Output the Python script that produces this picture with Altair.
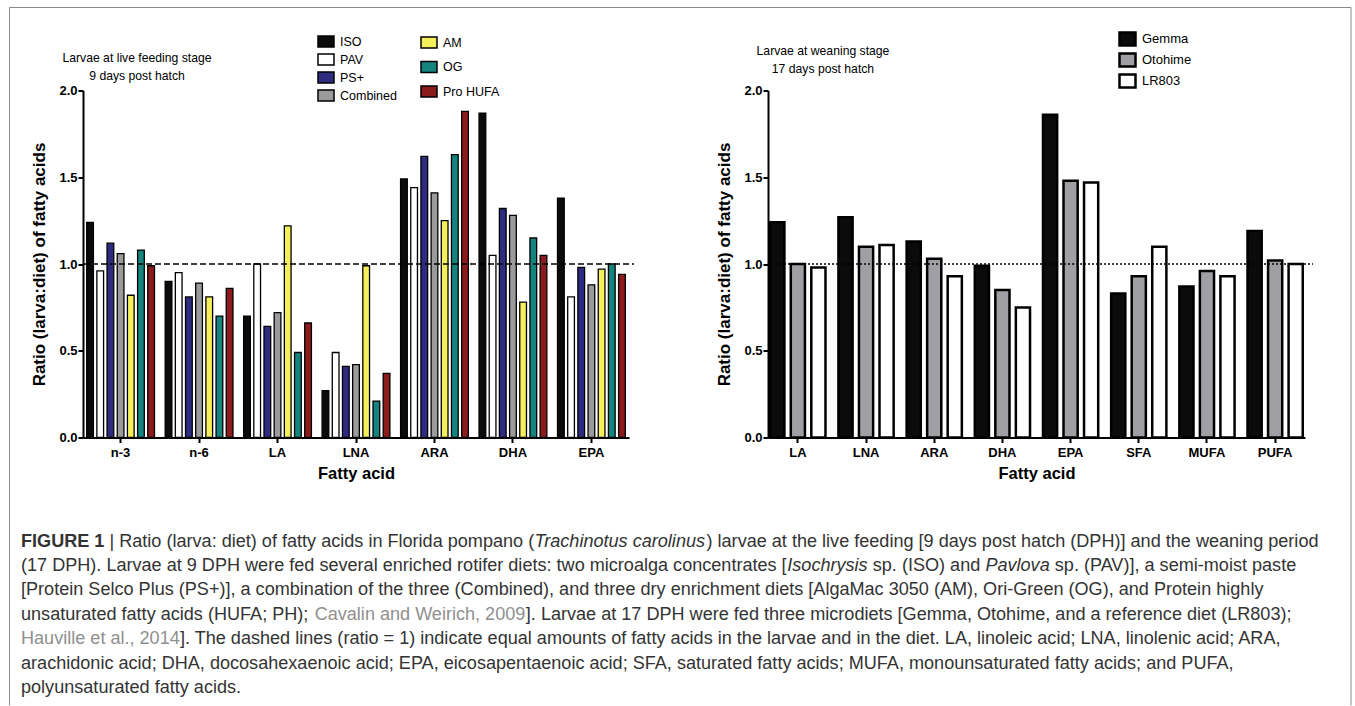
import altair as alt
import pandas as pd

# ---------------- data ----------------
left_acids = ["n-3", "n-6", "LA", "LNA", "ARA", "DHA", "EPA"]
left_diets = ["ISO", "PAV", "PS+", "Combined", "AM", "OG", "Pro HUFA"]
left_colors = ["#0b0b0b", "#ffffff", "#2d2c80", "#9b9b9b", "#f5ef5c", "#15847e", "#8c1b1b"]
ISO = [1.24, 0.90, 0.70, 0.27, 1.49, 1.87, 1.38]
PAV = [0.96, 0.95, 1.00, 0.49, 1.44, 1.05, 0.81]
PSP = [1.12, 0.81, 0.64, 0.41, 1.62, 1.32, 0.98]
COMB = [1.06, 0.89, 0.72, 0.42, 1.41, 1.28, 0.88]
AM = [0.82, 0.81, 1.22, 0.99, 1.25, 0.78, 0.97]
OG = [1.08, 0.70, 0.49, 0.21, 1.63, 1.15, 1.00]
PH = [0.99, 0.86, 0.66, 0.37, 1.88, 1.05, 0.94]

right_acids = ["LA", "LNA", "ARA", "DHA", "EPA", "SFA", "MUFA", "PUFA"]
right_diets = ["Gemma", "Otohime", "LR803"]
right_colors = ["#0b0b0b", "#a0a0a4", "#ffffff"]
GEMMA = [1.24, 1.27, 1.13, 0.99, 1.86, 0.83, 0.87, 1.19]
OTOHIME = [1.00, 1.10, 1.03, 0.85, 1.48, 0.93, 0.96, 1.02]
LR803 = [0.98, 1.11, 0.93, 0.75, 1.47, 1.10, 0.93, 1.00]

left_title = ["Larvae at live feeding stage", "9 days post hatch"]
right_title = ["Larvae at weaning stage", "17 days post hatch"]
y_ticks = [0, 0.5, 1.0, 1.5, 2.0]

caption_lines = [
    [("FIGURE 1", "bold"), (" | Ratio (larva: diet) of fatty acids in Florida pompano (", "normal"),
     ("Trachinotus carolinus", "italic"),
     (") larvae at the live feeding [9 days post hatch (DPH)] and the weaning period", "normal")],
    [("(17 DPH). Larvae at 9 DPH were fed several enriched rotifer diets: two microalga concentrates [", "normal"),
     ("Isochrysis", "italic"), (" sp. (ISO) and ", "normal"), ("Pavlova", "italic"),
     (" sp. (PAV)], a semi-moist paste", "normal")],
    [("[Protein Selco Plus (PS+)], a combination of the three (Combined), and three dry enrichment diets [AlgaMac 3050 (AM), Ori-Green (OG), and Protein highly", "normal")],
    [("unsaturated fatty acids (HUFA; PH); ", "normal"), ("Cavalin and Weirich, 2009", "cite"),
     ("]. Larvae at 17 DPH were fed three microdiets [Gemma, Otohime, and a reference diet (LR803);", "normal")],
    [("Hauville et al., 2014", "cite"),
     ("]. The dashed lines (ratio = 1) indicate equal amounts of fatty acids in the larvae and in the diet. LA, linoleic acid; LNA, linolenic acid; ARA,", "normal")],
    [("arachidonic acid; DHA, docosahexaenoic acid; EPA, eicosapentaenoic acid; SFA, saturated fatty acids; MUFA, monounsaturated fatty acids; and PUFA,", "normal")],
    [("polyunsaturated fatty acids.", "normal")],
]


def long_df(acids, diets, series):
    rows = []
    for d, vals in zip(diets, series):
        for a, v in zip(acids, vals):
            rows.append({"acid": a, "diet": d, "value": v})
    return pd.DataFrame(rows)


df_left = long_df(left_acids, left_diets, [ISO, PAV, PSP, COMB, AM, OG, PH])
df_right = long_df(right_acids, right_diets, [GEMMA, OTOHIME, LR803])

# ---------------- layout helpers ----------------
FONT = "Liberation Sans, Arial, sans-serif"
LEFT_X0, TOP_Y0 = 82, 90           # left plot origin (page px)
RIGHT_X0 = 767
PLOT_H = 347
LEFT_W, RIGHT_W = 546, 537
VSPACE = 20
CAP_Y0 = TOP_Y0 + PLOT_H + VSPACE   # caption chart origin

axis_common = dict(domainColor="black", domainWidth=2, tickColor="black", tickWidth=2, tickSize=5,
                   labelColor="black", labelFont=FONT, labelFontSize=13, labelFontWeight="bold",
                   titleFont=FONT, titleFontWeight="bold", titleColor="black", grid=False)


def x_enc(acids, pi, po):
    return alt.X("acid:N", sort=acids, scale=alt.Scale(domain=acids, paddingInner=pi, paddingOuter=po),
                 axis=alt.Axis(title="Fatty acid", labelAngle=0, labelPadding=4, titlePadding=6,
                               titleFontSize=16.5, **axis_common))


y_enc = alt.Y("value:Q", scale=alt.Scale(domain=[0, 2], nice=False),
              axis=alt.Axis(title="Ratio (larva:diet) of fatty acids", values=y_ticks, format=".1f",
                            labelPadding=1, titlePadding=10, titleFontSize=17, **axis_common))


def make_legend(x, y, row_pad, stroke_w, path, font_size):
    return alt.Legend(title=None, orient="none", legendX=x, legendY=y, direction="vertical",
                      symbolType=path, symbolSize=256, symbolStrokeColor="black",
                      symbolStrokeWidth=stroke_w, symbolOpacity=1,
                      labelFont=FONT, labelFontSize=font_size, labelColor="black",
                      labelOffset=5, rowPadding=row_pad, padding=0, labelLimit=300)


def bars(df, acids, all_diets, diets, colors, pi, po, opi, sw, leg):
    return alt.Chart(df).transform_filter(
        alt.FieldOneOfPredicate(field="diet", oneOf=diets)
    ).mark_bar(stroke="black", strokeWidth=sw).encode(
        x=x_enc(acids, pi, po),
        y=y_enc,
        xOffset=alt.XOffset("diet:N", scale=alt.Scale(domain=all_diets, paddingInner=opi, paddingOuter=0)),
        fill=alt.Fill("diet:N", scale=alt.Scale(domain=diets, range=colors), legend=leg),
    )


one = pd.DataFrame({"k": [0]})

# ---------------- left panel ----------------
RECT_L = "M-1,-0.69H1V0.69H-1Z"
RECT_R = "M-1,-0.81H1V0.81H-1Z"

left_bars1 = bars(df_left, left_acids, left_diets, left_diets[:4], left_colors[:4], 0.136, 0.047, 0.34, 1.3,
                  make_legend(316 - LEFT_X0, 40 - TOP_Y0 - 8, 0, 1.5, RECT_L, 12.5))
left_bars2 = bars(df_left, left_acids, left_diets, left_diets[4:], left_colors[4:], 0.136, 0.047, 0.34, 1.3,
                  make_legend(419 - LEFT_X0, 41 - TOP_Y0 - 8, 6.5, 1.5, RECT_L, 12.5))
left_rule = alt.Chart(one).mark_rule(color="black", strokeWidth=1.5, strokeDash=[6, 3]).encode(
    y=alt.datum(1.0), x=alt.value(0), x2=alt.value(551))
left_txt = alt.Chart(one).mark_text(text=left_title, font=FONT, fontSize=12.2, lineHeight=18,
                                    align="center", baseline="middle", color="black").encode(
    x=alt.value(136 - LEFT_X0), y=alt.value(57 - TOP_Y0))

left = alt.layer(left_bars1, left_bars2, left_rule, left_txt).resolve_scale(
    fill="independent").properties(width=LEFT_W, height=PLOT_H)

# ---------------- right panel ----------------
right_bars = bars(df_right, right_acids, right_diets, right_diets, right_colors, 0.19, 0.033, 0.31, 2.5,
                  make_legend(1117 - RIGHT_X0, 37 - TOP_Y0 - 8, -2.5, 2.5, RECT_R, 13))
right_rule = alt.Chart(one).mark_rule(color="black", strokeWidth=1.5, strokeDash=[2, 2]).encode(
    y=alt.datum(1.0), x=alt.value(0), x2=alt.value(545))
right_txt = alt.Chart(one).mark_text(text=right_title, font=FONT, fontSize=12.2, lineHeight=18,
                                     align="center", baseline="middle", color="black").encode(
    x=alt.value(822 - RIGHT_X0), y=alt.value(50 - TOP_Y0))
right = alt.layer(right_bars, right_rule, right_txt).properties(width=RIGHT_W, height=PLOT_H)

# ---------------- caption ----------------
REG = {' ': 278, '!': 278, '"': 355, '#': 556, '$': 556, '%': 889, '&': 667, "'": 191, '(': 333, ')': 333,
       '*': 389, '+': 584, ',': 278, '-': 333, '.': 278, '/': 278, ':': 278, ';': 278, '<': 584, '=': 584,
       '>': 584, '?': 556, '@': 1015, '[': 278, '\\': 278, ']': 278, '^': 469, '_': 556, '|': 260,
       'A': 667, 'B': 667, 'C': 722, 'D': 722, 'E': 667, 'F': 611, 'G': 778, 'H': 722, 'I': 278, 'J': 500,
       'K': 667, 'L': 556, 'M': 833, 'N': 722, 'O': 778, 'P': 667, 'Q': 778, 'R': 722, 'S': 667, 'T': 611,
       'U': 722, 'V': 667, 'W': 944, 'X': 667, 'Y': 667, 'Z': 611,
       'a': 556, 'b': 556, 'c': 500, 'd': 556, 'e': 556, 'f': 278, 'g': 556, 'h': 556, 'i': 222, 'j': 222,
       'k': 500, 'l': 222, 'm': 833, 'n': 556, 'o': 556, 'p': 556, 'q': 556, 'r': 333, 's': 500, 't': 278,
       'u': 556, 'v': 500, 'w': 722, 'x': 500, 'y': 500, 'z': 500}
for _d in "0123456789":
    REG[_d] = 556
BOLD = dict(REG)
BOLD.update({'F': 611, 'I': 278, 'G': 778, 'U': 722, 'R': 722, 'E': 667, ' ': 278})


def em(s, style):
    table = BOLD if style == "bold" else REG
    return sum(table.get(c, 556) for c in s) / 1000.0


CAP_X = 20
CAP_RIGHT = 1318
CAP_Y = 541
CAP_STEP = 24.4
cap_fs = (CAP_RIGHT - CAP_X) / sum(em(t, s) for t, s in caption_lines[0])

seg_rows = []
for i, line in enumerate(caption_lines):
    cursor = CAP_X
    for t, s in line:
        lead = len(t) - len(t.lstrip(" "))
        seg_rows.append({"t": t.strip(), "x": cursor + em(" " * lead, s) * cap_fs - LEFT_X0,
                         "y": CAP_Y + CAP_STEP * i - CAP_Y0, "style": s})
        cursor += em(t, s) * cap_fs
seg_df = pd.DataFrame(seg_rows)

frame_df = pd.DataFrame({
    "x": [8.5 - LEFT_X0, 8.5 - LEFT_X0, 1350 - LEFT_X0],
    "x2": [8.5 - LEFT_X0, 1350 - LEFT_X0, 1350 - LEFT_X0],
    "y": [7 - CAP_Y0, 7 - CAP_Y0, 7 - CAP_Y0],
    "y2": [705 - CAP_Y0, 7 - CAP_Y0, 705 - CAP_Y0],
})
frame = alt.Chart(frame_df).mark_rule(color="#8a8a8a", strokeWidth=1).encode(
    x=alt.X("x:Q", scale=None, axis=None), x2="x2:Q",
    y=alt.Y("y:Q", scale=None, axis=None), y2="y2:Q")

styles = {
    "normal": dict(color="#333333"),
    "italic": dict(color="#333333", fontStyle="italic"),
    "bold": dict(color="#333333", fontWeight="bold"),
    "cite": dict(color="#8f8f8f"),
}
cap_layers = [frame]
for s, props in styles.items():
    cap_layers.append(
        alt.Chart(seg_df).transform_filter(alt.datum.style == s).mark_text(
            font=FONT, fontSize=cap_fs, align="left", baseline="middle", **props).encode(
            x=alt.X("x:Q", scale=None, axis=None), y=alt.Y("y:Q", scale=None, axis=None), text="t:N"))
caption = alt.layer(*cap_layers).properties(width=1, height=1)

chart = alt.concat(
    left, right, caption, columns=2, bounds="flush",
    spacing={"row": VSPACE, "column": RIGHT_X0 - LEFT_X0 - LEFT_W},
).resolve_scale(fill="independent", xOffset="independent").properties(
    padding={"left": 8, "top": 6.5, "right": 0, "bottom": 0}
).configure_view(stroke="transparent")

chart.save("out.html", embed_options={"renderer": "svg", "actions": False})
